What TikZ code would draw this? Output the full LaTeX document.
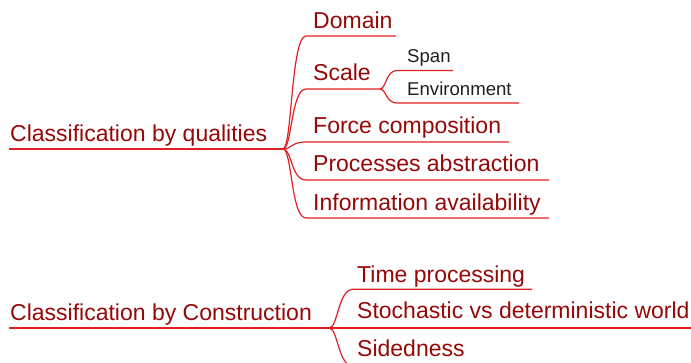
\documentclass[tikz,border=0pt]{standalone}
\usepackage{fontspec}
\setmainfont{Liberation Sans}
\definecolor{txtred}{RGB}{150,8,8}
\definecolor{linered}{RGB}{226,32,36}
\begin{document}
\begin{tikzpicture}[x=1pt,y=-1pt,
  topic/.style={anchor=base west, inner sep=0pt, text=txtred, font=\fontsize{23}{27}\selectfont},
  subtopic/.style={anchor=base west, inner sep=0pt, text=black!88, font=\fontsize{18.6}{22}\selectfont},
  branch/.style={draw=linered, line width=1.2pt},
  mmcurve/.style={to path={.. controls +(9,0) and +(-15,0) .. (\tikztotarget)}},
  mmsmall/.style={to path={.. controls +(6,0) and +(-11,0) .. (\tikztotarget)}}]
\useasboundingbox (0,0) rectangle (691,362);

% ---- tree 1 ----
\node[topic] (root1) at (10,141) {Classification by qualities};
\coordinate (r1s) at (9,149);
\coordinate (j1) at (283,149);

\node[topic] (dom) at (313,28) {Domain};
\coordinate (dom-s) at (306,36);  \coordinate (dom-e) at (396,36);

\node[topic] (scl) at (313,80) {Scale};
\coordinate (scl-s) at (306,89);  \coordinate (j2) at (380,89);

\node[subtopic] (spn) at (407,62) {Span};
\coordinate (spn-s) at (397,70.5); \coordinate (spn-e) at (453,70.5);

\node[subtopic] (env) at (407,95.5) {Environment};
\coordinate (env-s) at (397,103); \coordinate (env-e) at (519,103);

\node[topic] (frc) at (313,133.5) {Force composition};
\coordinate (frc-s) at (306,142); \coordinate (frc-e) at (509,142);

\node[topic] (prc) at (313,171.5) {Processes abstraction};
\coordinate (prc-s) at (306,180); \coordinate (prc-e) at (549,180);

\node[topic] (inf) at (313,210) {Information availability};
\coordinate (inf-s) at (306,218); \coordinate (inf-e) at (549,218);

\draw[branch] (r1s) -- (j1);
\draw[branch] (j1) to[mmcurve] (dom-s) -- (dom-e);
\draw[branch] (j1) to[mmcurve] (scl-s) -- (j2);
\draw[branch] (j1) to[mmcurve] (frc-s) -- (frc-e);
\draw[branch] (j1) to[mmcurve] (prc-s) -- (prc-e);
\draw[branch] (j1) to[mmcurve] (inf-s) -- (inf-e);
\draw[branch] (j2) to[mmsmall] (spn-s) -- (spn-e);
\draw[branch] (j2) to[mmsmall] (env-s) -- (env-e);

% ---- tree 2 ----
\node[topic] (root2) at (10,320) {Classification by Construction};
\coordinate (r2s) at (9,328);
\coordinate (j3) at (329,328);

\node[topic] (tim) at (357,282) {Time processing};
\coordinate (tim-s) at (353,289.3); \coordinate (tim-e) at (532,289.3);

\node[topic] (sto) at (357,318.3) {Stochastic vs deterministic world};
\coordinate (sto-e) at (691,328);

\node[topic] (sid) at (357,356) {Sidedness};
\coordinate (sid-s) at (353,366); \coordinate (sid-e) at (480,366);

\draw[branch] (r2s) -- (j3);
\draw[branch] (j3) to[mmcurve] (tim-s) -- (tim-e);
\draw[branch] (j3) -- (sto-e);
\draw[branch] (j3) to[mmcurve] (sid-s) -- (sid-e);
\end{tikzpicture}
\end{document}
